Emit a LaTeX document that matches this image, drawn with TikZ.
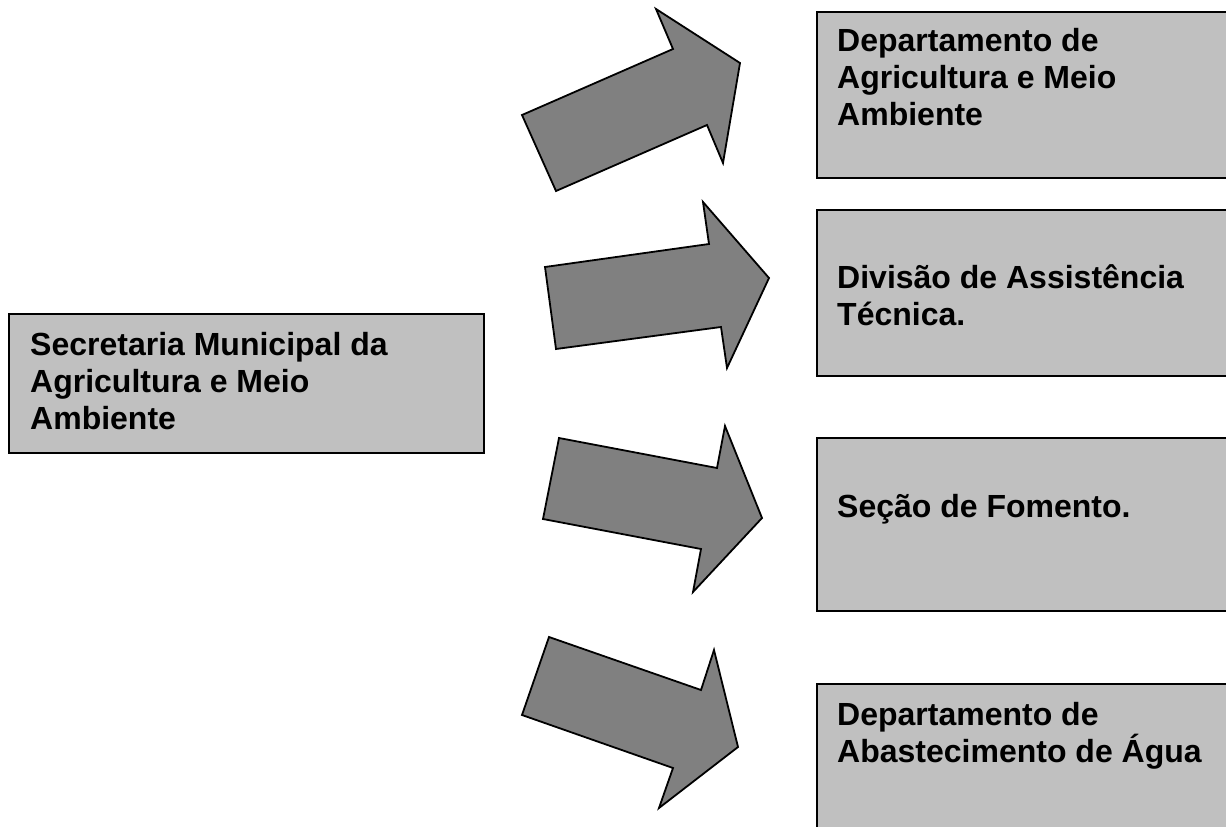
\documentclass[tikz,border=0pt]{standalone}
\usepackage{fontspec}
\setmainfont{Liberation Sans}
\begin{document}
\begin{tikzpicture}[x=1pt,y=-1pt,
  box/.style={draw=black, line width=1.8pt, fill=boxgray, inner sep=0pt, outer sep=0pt, anchor=north west},
  lbl/.style={anchor=north west, inner sep=0pt, align=left, font=\fontsize{32}{37}\selectfont\bfseries},
  blockarrow/.style={draw=black, line width=1.8pt, fill=arrowgray, line join=miter}]
\definecolor{boxgray}{HTML}{C0C0C0}
\definecolor{arrowgray}{HTML}{808080}
\useasboundingbox (0,0) rectangle (1226,827);
\clip (0,0) rectangle (1226,827);
\fill[white] (0,0) rectangle (1226,827);
% boxes
\node[box, minimum width=475pt, minimum height=139pt] (sec) at (9,314) {};
\node[box, minimum width=440pt, minimum height=166pt] (dep1) at (817,12) {};
\node[box, minimum width=440pt, minimum height=166pt] (div) at (817,210) {};
\node[box, minimum width=440pt, minimum height=173pt] (sec2) at (817,438) {};
\node[box, minimum width=440pt, minimum height=180pt] (dep2) at (817,684) {};
% texts
\node[lbl] (tsec) at (30,330) {\rule{0pt}{25pt}Secretaria Municipal da\\Agricultura e Meio\\Ambiente};
\node[lbl] (tdep1) at (837,26) {\rule{0pt}{25pt}Departamento de\\Agricultura e Meio\\Ambiente};
\node[lbl] (tdiv) at (837,263) {\rule{0pt}{25pt}Divisão de Assistência\\Técnica.};
\node[lbl] (tsec2) at (837,492) {\rule{0pt}{25pt}Seção de Fomento.};
\node[lbl] (tdep2) at (837,700) {\rule{0pt}{25pt}Departamento de\\Abastecimento de Água};
% block arrows
\draw[blockarrow] (522,115) -- (673,49) -- (656,9) -- (740,63) -- (723,163) -- (707,125) -- (556,191) -- cycle;
\draw[blockarrow] (545,267) -- (709,244) -- (703,202) -- (769,278) -- (727,368) -- (721,327) -- (556,349) -- cycle;
\draw[blockarrow] (559,438) -- (717,468) -- (725,426) -- (762,518) -- (693,592) -- (701,549) -- (543,519) -- cycle;
\draw[blockarrow] (549,637) -- (701,690) -- (714,650) -- (738,747) -- (659,808) -- (673,768) -- (522,715) -- cycle;
\end{tikzpicture}
\end{document}
